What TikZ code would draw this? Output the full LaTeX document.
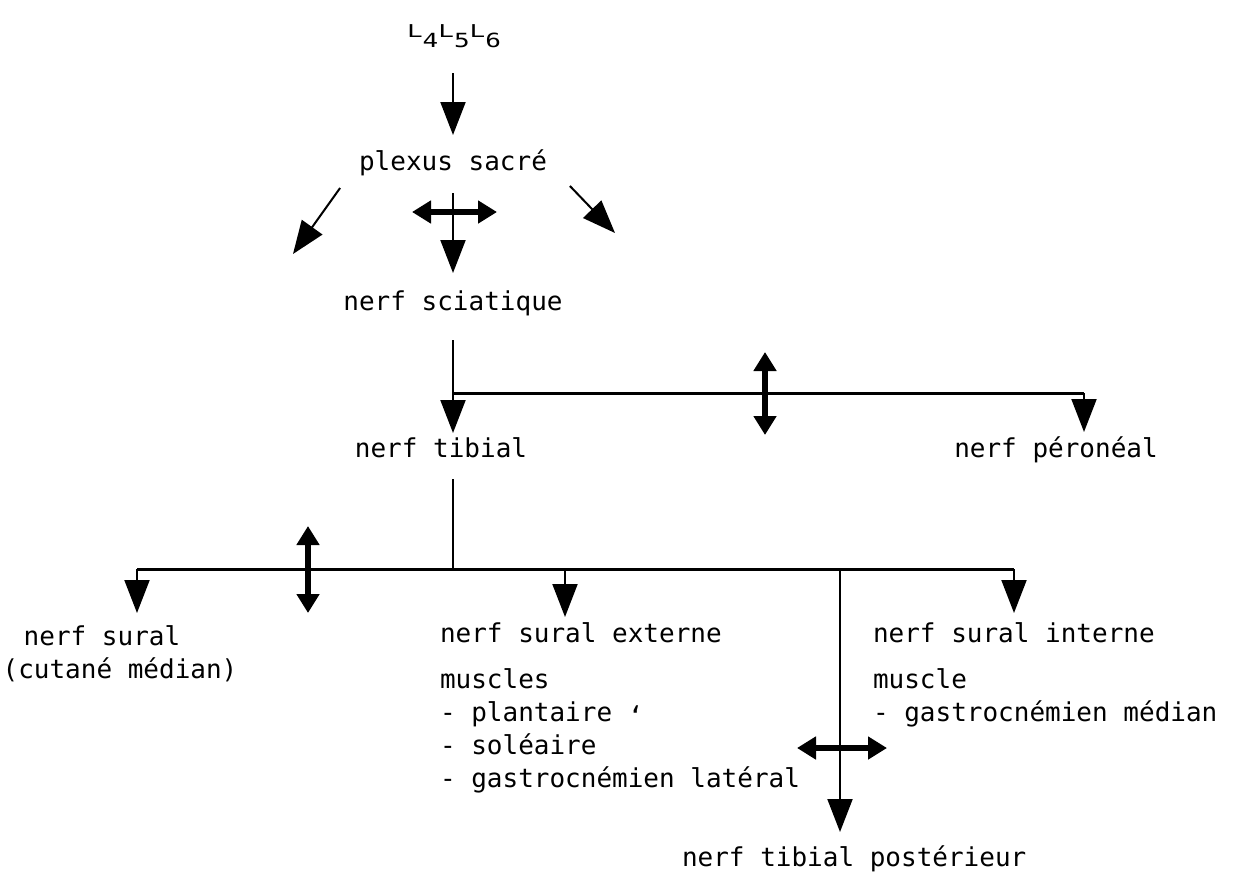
\documentclass[tikz,border=0pt]{standalone}
\usepackage{graphicx}
\usepackage{fontspec}
\setmainfont{DejaVu Sans Mono}
\usetikzlibrary{arrows.meta}
\tikzset{
  txt/.style={inner sep=0pt, outer sep=0pt, text height=20pt, text depth=6pt, font=\fontsize{26}{33}\selectfont},
  thinline/.style={line width=2pt},
  busline/.style={line width=3pt},
  arr/.style={line width=2pt, -{Triangle[length=33pt,width=25pt]}},
  dbl/.style={line width=6pt, {Triangle[length=19pt,width=22pt]}-{Triangle[length=19pt,width=22pt]}}
}
\begin{document}
\begin{tikzpicture}[x=1pt,y=-1pt]
\useasboundingbox (0,0) rectangle (1241,878);
\fill[white] (0,0) rectangle (1241,878);
% text nodes
\node[txt, anchor=base] (L) at (454,37) {\scalebox{1}[0.68]{L}\raisebox{-10pt}{\scalebox{1}[0.75]{4}}\scalebox{1}[0.68]{L}\raisebox{-10pt}{\scalebox{1}[0.75]{5}}\scalebox{1}[0.68]{L}\raisebox{-10pt}{\scalebox{1}[0.75]{6}}};
\node[txt, anchor=base] (plexus) at (453,170) {plexus sacré};
\node[txt, anchor=base] (sciatique) at (453,310) {nerf sciatique};
\node[txt, anchor=base] (tibial) at (441,457) {nerf tibial};
\node[txt, anchor=base] (peroneal) at (1056,457) {nerf péronéal};
\node[txt, anchor=base] (sural) at (102,645) {nerf sural};
\node[txt, anchor=base] (cutane) at (120,678) {(cutané médian)};
\node[txt, anchor=base west] (externe) at (440,642) {nerf sural externe};
\node[txt, anchor=base west] (musclesA) at (440,688) {muscles};
\node[txt, anchor=base west] (plantaire) at (440,721) {- plantaire \raisebox{-4pt}{‘}};
\node[txt, anchor=base west] (soleaire) at (440,754) {- soléaire};
\node[txt, anchor=base west] (gastrolat) at (440,787) {- gastrocnémien latéral};
\node[txt, anchor=base west] (interne) at (873,642) {nerf sural interne};
\node[txt, anchor=base west] (muscleB) at (873,688) {muscle};
\node[txt, anchor=base west] (gastromed) at (873,721) {- gastrocnémien médian};
\node[txt, anchor=base west] (posterieur) at (682,866) {nerf tibial postérieur};
% coordinates
\coordinate (dl) at (293,254);
\coordinate (dr) at (615,233);
\coordinate (h1a) at (412,212);
\coordinate (h1b) at (497,212);
\coordinate (b1) at (453,393);
\coordinate (b1r) at (1084,393);
\coordinate (v1a) at (765,352);
\coordinate (v1b) at (765,435);
\coordinate (b2) at (453,569);
\coordinate (b2l) at (137,569);
\coordinate (b2m) at (565,569);
\coordinate (b2p) at (840,569);
\coordinate (b2r) at (1014,569);
\coordinate (v2a) at (308,526);
\coordinate (v2b) at (308,613);
\coordinate (h2a) at (797,748);
\coordinate (h2b) at (887,748);
% top part
\draw[arr, shorten <=30pt, shorten >=15pt] (L.south -| plexus) -- (plexus);
\draw[arr] ([xshift=-19pt,yshift=-12pt]plexus.south west) -- (dl);
\draw[arr] ([xshift=23pt,yshift=-10pt]plexus.south east) -- (dr);
\draw[arr, shorten <=17pt, shorten >=17pt] (plexus) -- (sciatique);
\draw[dbl] (h1a) -- (h1b);
% sciatique branching
\draw[thinline, shorten <=24pt] (sciatique.south) -- (b1);
\draw[busline] (b1) -- (b1r);
\draw[arr, shorten >=4pt] (b1) -- (b1 |- tibial.north);
\draw[arr, shorten >=5pt] (b1r) -- (b1r |- peroneal.north);
\draw[dbl] (v1a) -- (v1b);
% tibial branching
\draw[thinline] ([yshift=-16pt]b2 |- tibial.south) -- (b2);
\draw[busline] (b2l) -- (b2r);
\draw[arr, shorten >=12pt] (b2l) -- (b2l |- sural.north);
\draw[arr, shorten >=5pt] (b2m) -- (b2m |- externe.north);
\draw[arr, shorten >=9pt] (b2r) -- (b2r |- interne.north);
\draw[arr, shorten >=14pt] (b2p) -- (b2p |- posterieur.north);
\draw[dbl] (v2a) -- (v2b);
\draw[dbl] (h2a) -- (h2b);
\end{tikzpicture}
\end{document}
